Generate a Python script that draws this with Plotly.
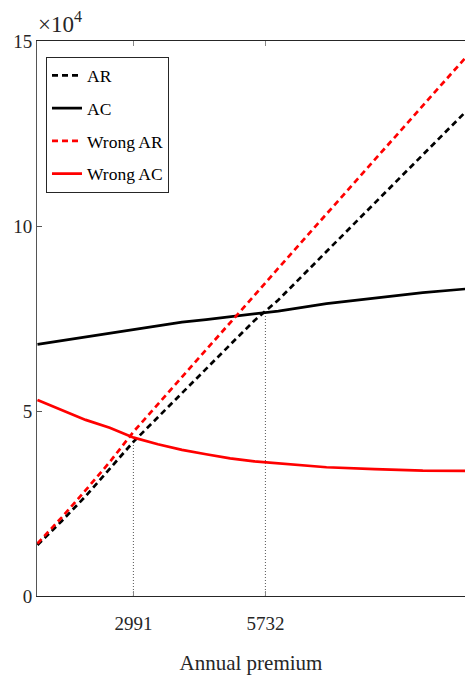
import plotly.graph_objects as go

premium = [1000, 1500, 2000, 2500, 3000, 3500, 4000, 4500, 5000, 5500, 6000, 7000, 8000, 9000, 9900]
ar = [1.38, 2.02, 2.70, 3.45, 4.18, 4.83, 5.49, 6.14, 6.79, 7.44, 8.00, 9.31, 10.62, 11.93, 13.10]
ac = [6.80, 6.90, 7.00, 7.08, 7.20, 7.30, 7.40, 7.47, 7.54, 7.61, 7.70, 7.90, 8.06, 8.20, 8.30]
wrong_ar = [1.42, 2.12, 2.86, 3.62, 4.45, 5.18, 5.92, 6.65, 7.39, 8.12, 8.86, 10.33, 11.80, 13.25, 14.57]
wrong_ac = [5.30, 5.02, 4.76, 4.55, 4.28, 4.10, 3.95, 3.83, 3.72, 3.64, 3.58, 3.48, 3.43, 3.39, 3.38]
scale = 1e4
ar = [v * scale for v in ar]
ac = [v * scale for v in ac]
wrong_ar = [v * scale for v in wrong_ar]
wrong_ac = [v * scale for v in wrong_ac]

break_even = [2991, 5732]
break_even_y = [4.18e4, 7.65e4]
x_ticks = [2991, 5732]
y_ticks = [0, 5e4, 10e4, 15e4]
y_tick_labels = ["0", "5", "10", "15"]

FONT = "Liberation Serif"
fig = go.Figure()

for xv, yv in zip(break_even, break_even_y):
    fig.add_trace(go.Scatter(x=[xv, xv], y=[0, yv], mode="lines", showlegend=False,
                             line=dict(color="#555555", width=1, dash="1px,2px"), hoverinfo="skip"))

series = [("AR", ar, "black", "6px,4px"), ("AC", ac, "black", "solid"),
          ("Wrong AR", wrong_ar, "#ff0000", "6px,4px"), ("Wrong AC", wrong_ac, "#ff0000", "solid")]
for name, vals, col, dash in series:
    fig.add_trace(go.Scatter(x=premium, y=vals, mode="lines", name=name, legendgroup=name,
                             line=dict(color=col, width=2.7, dash=dash)))

fig.update_layout(
    width=465, height=689,
    margin=dict(l=37, r=0, t=41, b=93),
    plot_bgcolor="white", paper_bgcolor="white",
    font=dict(family=FONT, size=19, color="#262626"),
    legend=dict(x=0.021, y=0.972, xanchor="left", yanchor="top",
                bordercolor="#262626", borderwidth=1, bgcolor="white",
                font=dict(family=FONT, size=17.5, color="black"),
                tracegroupgap=7, itemwidth=30),
    xaxis=dict(range=[990, 9876], tickvals=x_ticks, ticktext=[str(v) for v in x_ticks],
               ticks="inside", ticklen=5, tickcolor="#888888", showgrid=False, zeroline=False,
               showline=True, linecolor="#262626", linewidth=1.2, mirror="ticks", automargin=False,
               ticklabelstandoff=10,
               title=dict(text="Annual premium", font=dict(family=FONT, size=21, color="#262626"), standoff=22),
               tickfont=dict(family=FONT, size=19, color="#262626")),
    yaxis=dict(range=[0, 15e4], tickvals=y_ticks, ticktext=y_tick_labels, automargin=False,
               ticks="inside", ticklen=5, tickcolor="#555555", showgrid=False, zeroline=False,
               showline=True, linecolor="#555555", linewidth=1,
               tickfont=dict(family=FONT, size=19, color="#262626")),
    annotations=[dict(text="×10<sup>4</sup>", x=0, y=1, xref="paper", yref="paper",
                      xanchor="left", yanchor="bottom", showarrow=False, yshift=2, xshift=-1,
                      font=dict(family=FONT, size=23, color="#262626"))],
)

fig.write_html("out.html", config={"displayModeBar": False},
               post_script="document.body.style.margin='0';document.body.style.overflow='hidden';")
